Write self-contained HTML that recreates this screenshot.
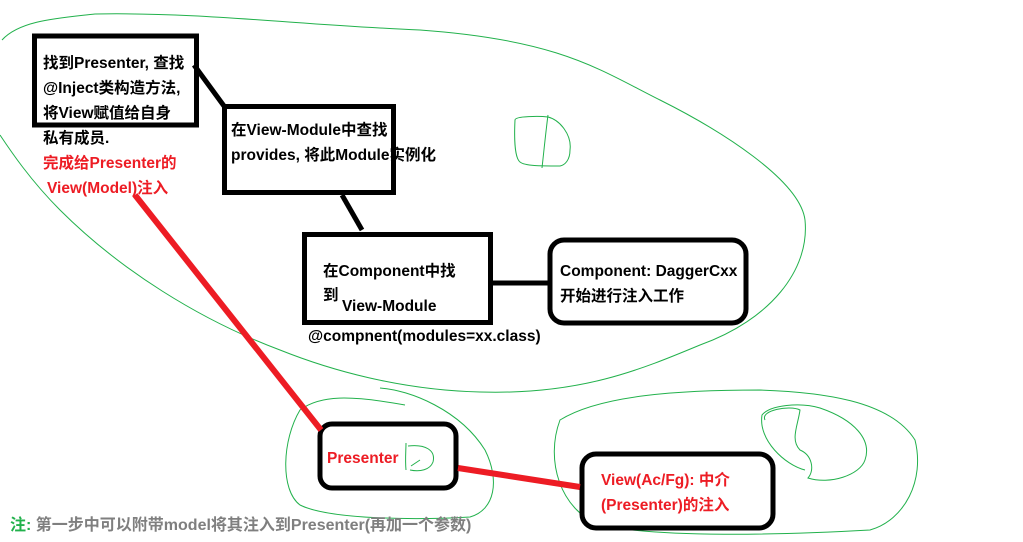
<!DOCTYPE html>
<html><head><meta charset="utf-8"><style>
html,body{margin:0;padding:0;background:#fff;width:1023px;height:542px;overflow:hidden}
svg{display:block}
text{font-family:"Liberation Sans","Noto Sans CJK SC",sans-serif;font-weight:bold;font-size:15.5px}
</style></head><body>
<svg width="1023" height="542" viewBox="0 0 1023 542" xmlns="http://www.w3.org/2000/svg">
<g fill="none" stroke="#22b14c" stroke-width="1">
<path d="M2,40 C20,20 60,18 95,14 C200,12 300,25 420,30 C560,40 600,70 660,100 C720,130 800,180 805,220 C810,270 770,320 700,345 C640,370 580,395 480,392 C400,390 330,370 280,350 C200,320 120,270 60,210 C30,180 10,150 0,135"/>
<path d="M515,120 C515,116 540,116 548,117 C560,120 572,135 570,150 C570,160 565,165 560,166 C540,166 525,166 520,162 C515,158 514,140 515,120 Z"/>
<path d="M548,115 C546,130 544,150 542,168"/>
<path d="M380,388 C410,390 460,410 485,450 C500,480 495,510 470,517 C420,520 330,520 300,505 C280,490 282,440 300,410 C320,395 350,395 405,405"/>
<path d="M560,420 C600,395 680,390 760,390 C820,392 890,400 915,440 C925,480 905,520 870,530 C780,535 660,538 600,525 C560,510 545,460 560,420 Z"/>
<path d="M765,420 C760,410 790,405 800,410 C798,425 790,440 800,450 C812,455 815,470 808,478 C830,485 860,475 865,460 C872,440 855,420 820,408 C800,402 770,405 762,415 C758,440 785,465 805,470"/>
</g>
<g stroke="#000" stroke-width="5" fill="#fff">
<rect x="34.5" y="36" width="162" height="89"/>
<rect x="224.5" y="106.5" width="169" height="86"/>
<rect x="304.5" y="234.5" width="186" height="88"/>
<rect x="550" y="240" width="196" height="83" rx="14"/>
<rect x="320" y="424" width="136" height="64" rx="12"/>
<rect x="582" y="454" width="191" height="74" rx="14"/>
</g>
<g fill="none" stroke="#22b14c" stroke-width="1">
<path d="M406,443 C406,450 405,460 406,470 M408,446 C425,444 436,450 433,462 C430,470 420,472 410,470 M420,460 L411,466"/>
</g>
<g stroke="#000" stroke-width="5" fill="none">
<line x1="194" y1="65" x2="224" y2="106"/>
<line x1="342" y1="195" x2="362" y2="230"/>
<line x1="492" y1="283" x2="548" y2="283"/>
</g>
<g stroke="#ed1c24" stroke-width="6" fill="none">
<line x1="135" y1="195" x2="321" y2="430"/>
<line x1="458" y1="468" x2="580" y2="487"/>
</g>
<text x="43" y="68">找到Presenter, 查找</text>
<text x="43" y="93">@Inject类构造方法,</text>
<text x="43" y="118">将View赋值给自身</text>
<text x="43" y="143">私有成员.</text>
<text x="43" y="168" fill="#ed1c24">完成给Presenter的</text>
<text x="47" y="193" fill="#ed1c24">View(Model)注入</text>
<text x="231" y="135">在View-Module中查找</text>
<text x="231" y="160">provides, 将此Module实例化</text>
<text x="323" y="276">在Component中找</text>
<text x="323" y="300">到</text>
<text x="342" y="311">View-Module</text>
<text x="308" y="341">@compnent(modules=xx.class)</text>
<text x="560" y="276">Component: DaggerCxx</text>
<text x="560" y="301">开始进行注入工作</text>
<text x="327" y="463" fill="#ed1c24">Presenter</text>
<text x="601" y="485" fill="#ed1c24">View(Ac/Fg): 中介</text>
<text x="601" y="510" fill="#ed1c24">(Presenter)的注入</text>
<text x="10" y="530" fill="#7f7f7f" style="font-size:16px"><tspan fill="#22b14c">注:</tspan> 第一步中可以附带model将其注入到Presenter(再加一个参数)</text>
</svg>
</body></html>
